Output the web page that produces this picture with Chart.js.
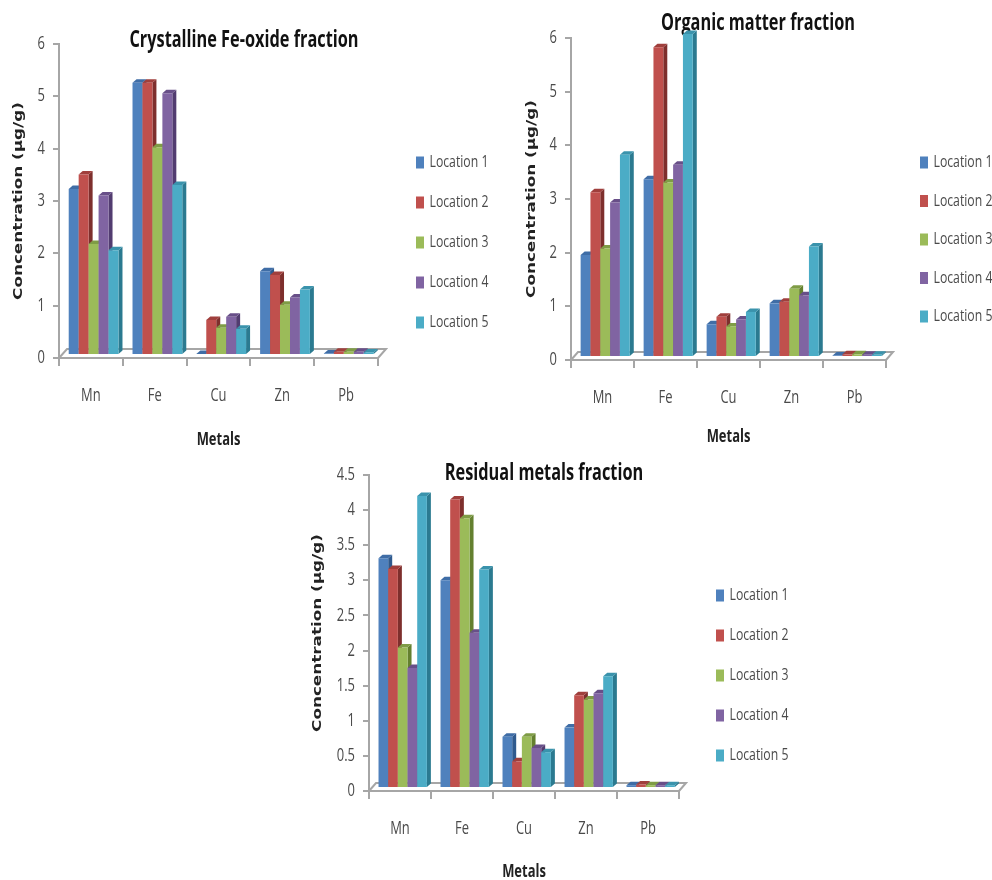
<!DOCTYPE html>
<html>
<head>
<meta charset="utf-8">
<script src="https://cdn.jsdelivr.net/npm/chart.js@4"></script>
<style>
    body { margin: 0; background: #fff; width: 992px; height: 880px; overflow: hidden; position: relative; }
    canvas { position: absolute; filter: blur(0.5px); }
</style>
</head>
<body>
<canvas id="crystalline" width="500" height="450" style="left:0;top:0"></canvas>
<canvas id="organic" width="472" height="450" style="left:520px;top:0"></canvas>
<canvas id="residual" width="500" height="430" style="left:300px;top:450px"></canvas>
<script>
const metals = ['Mn', 'Fe', 'Cu', 'Zn', 'Pb'];
const locations = ['Location 1', 'Location 2', 'Location 3', 'Location 4', 'Location 5'];

// Crystalline Fe-oxide fraction
const crystallineLoc1 = [3.17, 5.2, 0.02, 1.6, 0.03];
const crystallineLoc2 = [3.45, 5.2, 0.67, 1.53, 0.06];
const crystallineLoc3 = [2.12, 3.97, 0.52, 0.96, 0.06];
const crystallineLoc4 = [3.05, 5.0, 0.73, 1.1, 0.06];
const crystallineLoc5 = [2.0, 3.25, 0.5, 1.25, 0.05];

// Organic matter fraction
const organicLoc1 = [1.9, 3.31, 0.61, 1.0, 0.03];
const organicLoc2 = [3.07, 5.77, 0.75, 1.03, 0.05];
const organicLoc3 = [2.02, 3.25, 0.57, 1.27, 0.05];
const organicLoc4 = [2.88, 3.58, 0.7, 1.15, 0.04];
const organicLoc5 = [3.77, 6.02, 0.84, 2.06, 0.04];

// Residual metals fraction
const residualLoc1 = [3.27, 2.96, 0.73, 0.86, 0.04];
const residualLoc2 = [3.12, 4.11, 0.38, 1.32, 0.05];
const residualLoc3 = [2.0, 3.84, 0.73, 1.26, 0.04];
const residualLoc4 = [1.71, 2.21, 0.57, 1.35, 0.04];
const residualLoc5 = [4.16, 3.11, 0.51, 1.59, 0.04];

const frontColors = ['#4F81BD', '#C0504D', '#9BBB59', '#8064A2', '#4BACC6'];
const sideColors = ['#2F5A8E', '#7E2F2D', '#64802F', '#523C70', '#2B7A90'];
const topColors = ['#3F6DA6', '#A03F3C', '#7F9C46', '#684F88', '#3A93AC'];

const NARROW = '"Open Sans", sans-serif';
const GRAY = '#a6a6a6';
const TEXT = '#4a4a4a';

// the original was resized unevenly: labels are squeezed, the y title is stretched
function textStretch(font) {
    if (font.includes('DejaVu')) return 1.4;
    if (font.includes('24px')) return 0.68;
    return 0.72;
}

// fake 3D: floor + depth faces, bars painted left to right so each front covers the previous side
const bars3d = {
    id: 'bars3d',
    beforeDatasetsDraw(chart) {
        const ctx = chart.ctx;
        const { left, right, bottom } = chart.chartArea;
        const g = chart.options.plugins.bars3d;

        ctx.save();
        ctx.strokeStyle = GRAY;
        ctx.lineWidth = 2;
        ctx.beginPath();
        ctx.moveTo(left, bottom);
        ctx.lineTo(left + g.floorX, bottom - g.floorY);
        ctx.lineTo(right + g.floorX, bottom - g.floorY);
        ctx.lineTo(right, bottom);
        ctx.stroke();

        ctx.translate(2.7, -3);
        chart.data.datasets.forEach((ds, i) => {
            chart.getDatasetMeta(i).data.forEach((bar) => {
                const p = bar.getProps(['x', 'y', 'base', 'width'], true);
                const l = p.x - p.width / 2;
                const r = p.x + p.width / 2;
                const dx = 4, dy = 3.5;

                ctx.fillStyle = sideColors[i];
                ctx.beginPath();
                ctx.moveTo(r, p.y);
                ctx.lineTo(r + dx, p.y - dy);
                ctx.lineTo(r + dx, p.base - dy);
                ctx.lineTo(r, p.base);
                ctx.fill();

                ctx.fillStyle = topColors[i];
                ctx.beginPath();
                ctx.moveTo(l, p.y);
                ctx.lineTo(l + dx, p.y - dy);
                ctx.lineTo(r + dx, p.y - dy);
                ctx.lineTo(r, p.y);
                ctx.fill();

                bar.draw(ctx);
            });
        });
        ctx.restore();
        return false;
    }
};

// title and legend sit where the original has them, not where the layout would put them
const placeBlocks = {
    id: 'placeBlocks',
    beforeDraw(chart) {
        const g = chart.options.plugins.placeBlocks;

        const t = chart.titleBlock;
        t.left = g.titleX - 150;
        t.right = g.titleX + 150;
        t.top = g.titleY - 12;
        t.bottom = t.top + 24;

        const legend = chart.legend;
        const pad = legend.options.labels.padding;
        legend.left = g.legendX + 3 - pad;
        legend.right = legend.left + 120;
        legend.top = g.legendY - 8 - pad;
        legend.bottom = legend.top + 300;
    }
};

function drawFraction(id, title, series, yMax, yStep, g) {
    const canvas = document.getElementById(id);
    const ctx = canvas.getContext('2d');

    const rawFillText = ctx.fillText;
    ctx.fillText = function (text, x, y) {
        this.save();
        this.translate(x, y);
        this.scale(textStretch(this.font), 1);
        rawFillText.call(this, text, 0, 0);
        this.restore();
    };

    return new Chart(ctx, {
        type: 'bar',
        plugins: [bars3d, placeBlocks],
        data: {
            labels: metals,
            datasets: series.map((values, i) => ({
                label: locations[i],
                data: values,
                backgroundColor: frontColors[i],
                borderWidth: 0,
                categoryPercentage: 0.78,
                barPercentage: 1
            }))
        },
        options: {
            responsive: false,
            animation: false,
            layout: {
                padding: {
                    top: g.top - 24,
                    left: g.yTitleX - 7.2,
                    right: canvas.width - g.right - 60,
                    bottom: canvas.height - g.xTitleY - 10.8
                }
            },
            plugins: {
                tooltip: { enabled: false },
                bars3d: { floorX: g.floorX, floorY: g.floorY },
                placeBlocks: g,
                title: {
                    display: true,
                    text: title,
                    padding: 0,
                    color: '#111',
                    font: { family: NARROW, size: 24, weight: 'bold', lineHeight: 1 }
                },
                legend: {
                    position: 'right',
                    align: 'start',
                    maxWidth: 60,
                    labels: {
                        boxWidth: 2,
                        boxHeight: 6,
                        padding: g.legendGap - 17,
                        color: TEXT,
                        font: { family: NARROW, size: 17 },
                        generateLabels(chart) {
                            return Chart.defaults.plugins.legend.labels.generateLabels(chart).map((item) => ({
                                ...item,
                                lineWidth: 6,
                                strokeStyle: item.fillStyle
                            }));
                        }
                    }
                }
            },
            scales: {
                x: {
                    afterFit(scale) { scale.height = g.xTitleY + 10.8 - g.bottom; },
                    border: { color: GRAY, width: 2 },
                    grid: { drawOnChartArea: false, color: GRAY, lineWidth: 2, tickLength: 8 },
                    ticks: { color: TEXT, padding: 19, maxRotation: 0, font: { family: NARROW, size: 18 } },
                    title: {
                        display: true,
                        text: 'Metals',
                        padding: 0,
                        color: '#222',
                        font: { family: NARROW, size: 18, weight: 'bold' }
                    }
                },
                y: {
                    min: 0,
                    max: yMax,
                    afterFit(scale) { scale.width = g.left - (g.yTitleX - 7.2); },
                    border: { color: GRAY, width: 2 },
                    grid: { drawOnChartArea: false, color: GRAY, lineWidth: 2, tickLength: 6 },
                    ticks: {
                        stepSize: yStep,
                        color: TEXT,
                        padding: 8,
                        font: { family: NARROW, size: 18 },
                        callback: (v) => String(v)
                    },
                    title: {
                        display: true,
                        text: 'Concentration (µg/g)',
                        padding: 0,
                        color: '#222',
                        font: { family: '"DejaVu Sans"', size: 12, weight: 'bold' }
                    }
                }
            }
        }
    });
}

drawFraction('crystalline', 'Crystalline Fe-oxide fraction',
    [crystallineLoc1, crystallineLoc2, crystallineLoc3, crystallineLoc4, crystallineLoc5], 6, 1,
    { left: 59, right: 378, top: 44, bottom: 358, yTitleX: 19, xTitleY: 440, floorX: 8, floorY: 9,
      titleX: 244, titleY: 40, legendX: 416, legendY: 162, legendGap: 40 });

drawFraction('organic', 'Organic matter fraction',
    [organicLoc1, organicLoc2, organicLoc3, organicLoc4, organicLoc5], 6, 1,
    { left: 51, right: 366, top: 38, bottom: 360, yTitleX: 12, xTitleY: 437, floorX: 7, floorY: 8,
      titleX: 238, titleY: 23, legendX: 400, legendY: 162, legendGap: 38.5 });

drawFraction('residual', 'Residual metals fraction',
    [residualLoc1, residualLoc2, residualLoc3, residualLoc4, residualLoc5], 4.5, 0.5,
    { left: 69, right: 379, top: 25, bottom: 341, yTitleX: 18, xTitleY: 422, floorX: 7, floorY: 8,
      titleX: 244, titleY: 23, legendX: 416, legendY: 145, legendGap: 40 });
</script>
</body>
</html>
